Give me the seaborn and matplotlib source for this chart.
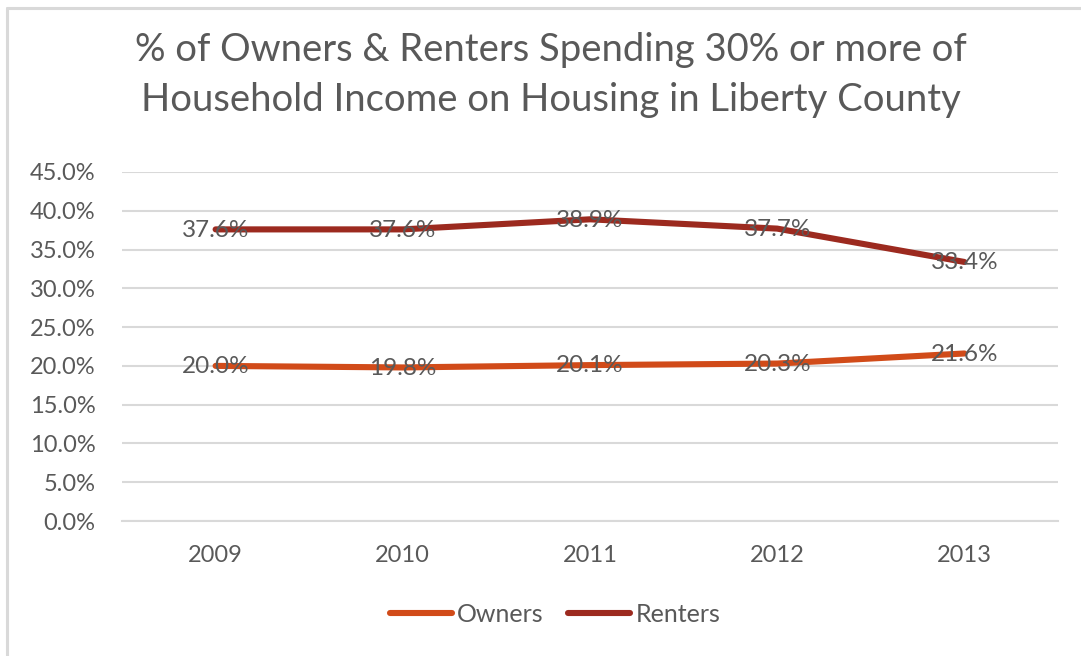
import matplotlib
matplotlib.use("Agg")
import matplotlib.pyplot as plt
from matplotlib.lines import Line2D
import seaborn as sns
import pandas as pd

years = ["2009", "2010", "2011", "2012", "2013"]
owners = [0.200, 0.198, 0.201, 0.203, 0.216]
renters = [0.376, 0.376, 0.389, 0.377, 0.334]
series_names = ["Owners", "Renters"]
series_colors = ["#D14B19", "#9C2A1F"]
y_ticks = [0.0, 0.05, 0.10, 0.15, 0.20, 0.25, 0.30, 0.35, 0.40, 0.45]

df = pd.DataFrame({
    "year": years * 2,
    "value": owners + renters,
    "series": [series_names[0]] * len(years) + [series_names[1]] * len(years),
})
df["x"] = df["year"].map({y: i for i, y in enumerate(years)})

sns.set_theme(style="white")
plt.rcParams["font.family"] = ["Lato", "DejaVu Sans"]
text_color = "#595959"
grid_color = "#D9D9D9"

fig = plt.figure(figsize=(10.81, 6.56), dpi=100)
ax = fig.add_axes([122 / 1081, 1 - 521 / 656, (1058 - 122) / 1081, (521 - 172) / 656])

sns.lineplot(data=df, x="x", y="value", hue="series", palette=series_colors,
             linewidth=4.4, ax=ax, legend=False, solid_capstyle="round")

ax.set_xlim(-0.5, len(years) - 0.5)
ax.set_ylim(0, 0.45)
ax.set_yticks(y_ticks)
ax.set_yticklabels([f"{t * 100:.1f}%" for t in y_ticks])
ax.set_xticks(range(len(years)))
ax.set_xticklabels(years)
ax.set_xlabel("")
ax.set_ylabel("")
for s in ["top", "right", "left"]:
    ax.spines[s].set_visible(False)
ax.spines["bottom"].set_color(grid_color)
ax.spines["bottom"].set_linewidth(1.5)
ax.grid(axis="y", color=grid_color, linewidth=1.5)
ax.set_axisbelow(True)
ax.tick_params(axis="y", length=0, pad=19, labelsize=17, labelcolor=text_color)
ax.tick_params(axis="x", length=0, pad=17, labelsize=17, labelcolor=text_color)

# value labels centred on each point
for vals in (owners, renters):
    for i, v in enumerate(vals):
        ax.text(i, v - 0.001, f"{v * 100:.1f}%", ha="center", va="center",
                fontsize=17.5, color=text_color, zorder=5)

fig.text(551 / 1081, 1 - 50 / 656, "% of Owners & Renters Spending 30% or more of",
         ha="center", va="center", fontsize=27.5, color=text_color)
fig.text(551 / 1081, 1 - 100 / 656, "Household Income on Housing in Liberty County",
         ha="center", va="center", fontsize=27.5, color=text_color)

handles = [Line2D([0], [0], color=c, linewidth=4.4, solid_capstyle="round")
           for c in series_colors]
fig.legend(handles, series_names, loc="center", bbox_to_anchor=(555 / 1081, 1 - 614 / 656),
           ncol=2, frameon=False, fontsize=18, handlelength=2.5, handletextpad=0.2,
           columnspacing=0.95, labelcolor=text_color)

# chart frame edges
fig.add_artist(Line2D([7 / 1081, 1], [1 - 8 / 656, 1 - 8 / 656], color="#D9D9D9",
                      linewidth=2.2, transform=fig.transFigure))
fig.add_artist(Line2D([7 / 1081, 7 / 1081], [0, 1 - 8 / 656], color="#D9D9D9",
                      linewidth=2.2, transform=fig.transFigure))

fig.savefig("out.png", dpi=100)
